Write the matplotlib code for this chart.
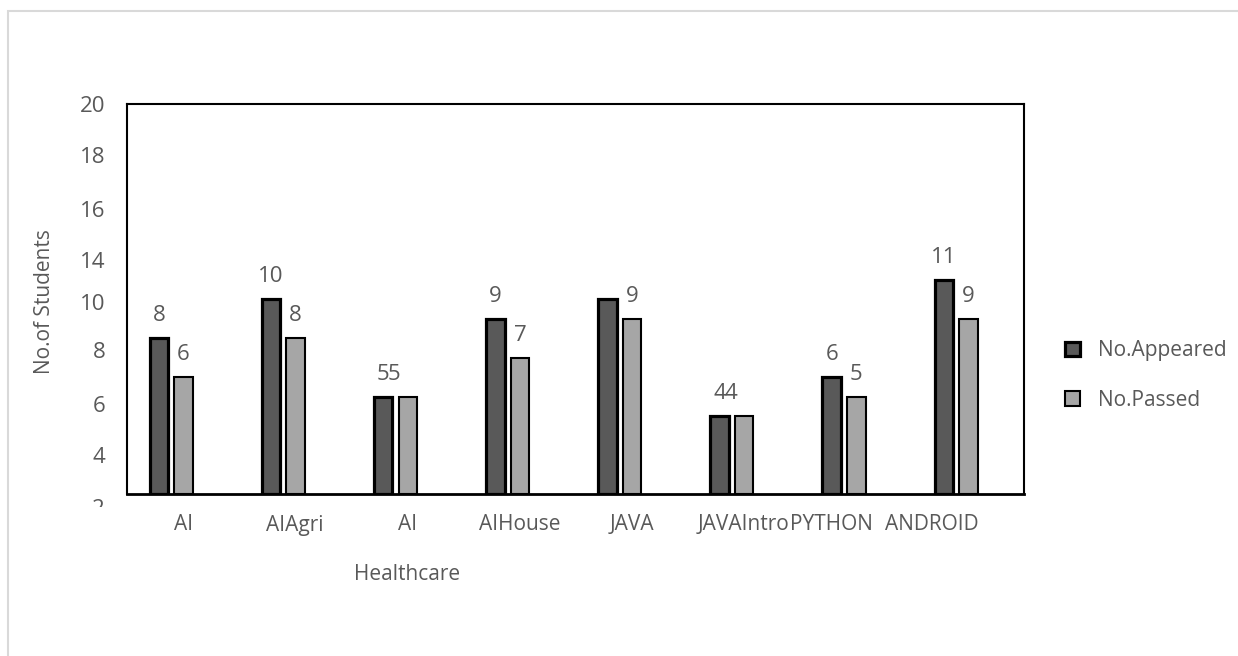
import matplotlib
matplotlib.use("Agg")

import matplotlib.pyplot as plt
from matplotlib.patches import Rectangle
from matplotlib.transforms import Bbox, TransformedBbox, blended_transform_factory

# course names, second line (if any) goes under the first
categories = ["AI", "AIAgri", "AI\nHealthcare", "AIHouse", "JAVA", "JAVAIntro", "PYTHON", "ANDROID"]
appeared = [8, 10, 5, 9, 10, 4, 6, 11]
passed = [6, 8, 5, 7, 9, 4, 5, 9]

# y axis labelling as printed on the sheet
ytick_values = [2.0, 4.6, 7.36, 9.87, 12.0, 14.6, 17.4, 20.0]
ytick_labels = ["4", "6", "8", "10", "14", "16", "18", "20"]

W, H = 1238, 656
TEXT = "#595959"
FONT = "Open Sans"
FS_NUM = 16
FS_TXT = 15

plt.rcParams["font.family"] = [FONT, "DejaVu Sans"]

fig = plt.figure(figsize=(W / 100, H / 100), dpi=100)
ax = fig.add_axes([127 / W, 1 - 494 / H, (1024 - 127) / W, (494 - 104) / H])

x = list(range(len(categories)))
bw = 0.165
dark_x = [i - 0.215 for i in x]
light_x = [i + 0.005 for i in x]

b1 = ax.bar(dark_x, appeared, width=bw, color="#595959", edgecolor="black",
            linewidth=2.3, label="No.Appeared", zorder=3)
b2 = ax.bar(light_x, passed, width=bw, color="#A6A6A6", edgecolor="black",
            linewidth=1.5, label="No.Passed", zorder=3)

ax.set_xlim(-0.5, len(categories) - 0.5)
ax.set_ylim(0, 20)

# value labels; a few are hidden or pushed sideways
hide_appeared = {4}
passed_shift = {2: -0.12, 5: -0.12}
for i, v in enumerate(appeared):
    if i in hide_appeared:
        continue
    ax.annotate(str(v), (dark_x[i], v), xytext=(0, 16), textcoords="offset points",
                ha="center", va="center", fontsize=FS_NUM, color=TEXT)
for i, v in enumerate(passed):
    ax.annotate(str(v), (light_x[i] + passed_shift.get(i, 0), v), xytext=(0, 16),
                textcoords="offset points", ha="center", va="center",
                fontsize=FS_NUM, color=TEXT)

# category labels drawn by hand so they can be nudged
ax.set_xticks([])
label_shift = [0, 0, 0, 0, 0, 0, -0.215, -0.32]
tr = blended_transform_factory(ax.transData, fig.transFigure)
for i, name in enumerate(categories):
    lines = name.split("\n")
    ax.text(i + label_shift[i], 1 - 525 / H, lines[0], transform=tr,
            ha="center", va="center", fontsize=FS_TXT, color=TEXT)
    for k, extra in enumerate(lines[1:], start=1):
        ax.text(i + label_shift[i], 1 - (525 + 49 * k) / H, extra, transform=tr,
                ha="center", va="center", fontsize=FS_TXT, color=TEXT)

ax.set_yticks(ytick_values)
ax.set_yticklabels(ytick_labels, fontsize=FS_NUM, color=TEXT)
ax.tick_params(axis="y", length=0, pad=15.5)

# lowest label sits half under the chart edge
t2 = fig.text(105 / W, 1 - 509.5 / H, "2", ha="right", va="center",
              fontsize=FS_NUM, color=TEXT)
t2.set_clip_box(TransformedBbox(Bbox([[0, 1 - 507 / H], [0.2, 1]]), fig.transFigure))
t2.set_clip_on(True)

for s in ["left", "right", "top"]:
    ax.spines[s].set_linewidth(1.5)
ax.spines["bottom"].set_linewidth(2.0)
for s in ax.spines.values():
    s.set_color("black")
    s.set_zorder(4)

fig.text(45 / W, 1 - 302 / H, "No.of Students", rotation=90, ha="center",
         va="center", fontsize=15, color=TEXT)

leg = fig.legend(handles=[b1, b2], loc="center left",
                 bbox_to_anchor=(1046 / W, 1 - 375.5 / H), frameon=False,
                 fontsize=FS_TXT, labelcolor=TEXT, handlelength=0.75,
                 handleheight=0.7, handletextpad=0.85, labelspacing=1.35)

# chart-area border
fig.add_artist(Rectangle((8 / W, -0.1), 1.2, (H - 11) / H + 0.1,
                         transform=fig.transFigure, fill=False,
                         edgecolor="#D9D9D9", linewidth=1.5))

fig.savefig("out.png", dpi=100)
